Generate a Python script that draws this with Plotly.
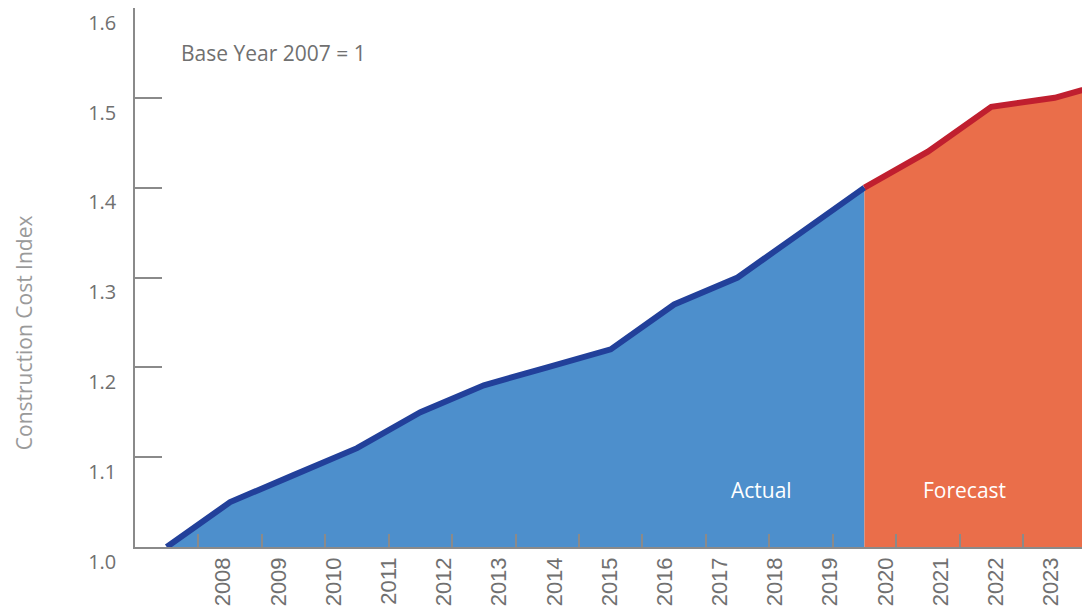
import plotly.graph_objects as go

# Construction cost index, base year 2007 = 1
index_values = [1.00, 1.05, 1.08, 1.11, 1.15, 1.18, 1.20, 1.22, 1.27, 1.30,
                1.35, 1.40, 1.44, 1.49, 1.50, 1.52]
actual_end = 11  # last point of the actual series; forecast starts here
year_labels = [str(y) for y in range(2008, 2024)]
y_ticks = [1.0, 1.1, 1.2, 1.3, 1.4, 1.5, 1.6]

BLUE_FILL = "#4d8fcc"
BLUE_LINE = "#22409a"
ORANGE_FILL = "#ea6e4a"
RED_LINE = "#c01f2f"
GREY = "#707070"

idx = list(range(len(index_values)))
act_x, act_y = idx[:actual_end + 1], index_values[:actual_end + 1]
fc_x, fc_y = idx[actual_end:], index_values[actual_end:]

fig = go.Figure()
fig.add_trace(go.Scatter(x=act_x, y=act_y, mode="none", fill="tozeroy",
                         fillcolor=BLUE_FILL, hoverinfo="skip", showlegend=False))
fig.add_trace(go.Scatter(x=fc_x, y=fc_y, mode="none", fill="tozeroy",
                         fillcolor=ORANGE_FILL, hoverinfo="skip", showlegend=False))
fig.add_trace(go.Scatter(x=act_x, y=act_y, mode="lines",
                         line=dict(color=BLUE_LINE, width=6), showlegend=False))
fig.add_trace(go.Scatter(x=fc_x, y=fc_y, mode="lines",
                         line=dict(color=RED_LINE, width=6), showlegend=False))
# invisible trace that carries the year labels axis
fig.add_trace(go.Scatter(x=[2008], y=[1.0], xaxis="x2", mode="markers",
                         marker=dict(opacity=0), hoverinfo="skip", showlegend=False))

fig.update_layout(
    width=1082, height=616,
    margin=dict(l=135, r=0, t=8, b=69),
    paper_bgcolor="white", plot_bgcolor="white",
    font=dict(family="Open Sans", color=GREY),
    xaxis=dict(
        range=[-0.5, 14.43], showgrid=False, zeroline=False,
        showline=True, linecolor="#8a8a8a", linewidth=1.5,
        ticks="inside", ticklen=13, tickcolor="#8a8a8a", tickwidth=1.5,
        tickmode="linear", tick0=0.5, dtick=1, showticklabels=False,
        layer="above traces",
    ),
    xaxis2=dict(
        overlaying="x", anchor="y", side="bottom",
        range=[2006.40, 2023.56], showgrid=False, zeroline=False,
        showline=False, ticks="",
        tickmode="array", tickvals=[int(y) for y in year_labels],
        ticktext=year_labels, tickangle=-90,
        tickfont=dict(family="Liberation Sans", size=22, color=GREY),
        ticklabelstandoff=5,
    ),
    yaxis=dict(
        range=[1.0, 1.6], showgrid=False, zeroline=False,
        showline=True, linecolor="#8a8a8a", linewidth=1.5,
        ticks="inside", ticklen=27, tickcolor="#8a8a8a", tickwidth=1.5,
        tickmode="array", tickvals=y_ticks,
        ticktext=[f"{v:.1f}" for v in y_ticks],
        tickfont=dict(family="Open Sans", size=20, color=GREY),
        ticklabelposition="outside bottom", ticklabelstandoff=13,
        layer="above traces",
    ),
    annotations=[
        dict(text="Construction Cost Index", xref="paper", yref="paper",
             x=-0.117, y=0.397, textangle=-90, xanchor="center", yanchor="middle",
             showarrow=False,
             font=dict(family="Open Sans", size=21, color="#9a9a9a")),
        dict(text="Base Year 2007 = 1", xref="paper", yref="y",
             x=0.0465, y=1.55, xanchor="left", yanchor="middle", showarrow=False,
             font=dict(family="Open Sans", size=21, color=GREY)),
        dict(text="Actual", xref="x", yref="y", x=(actual_end - 1.62), y=1.063,
             xanchor="center", yanchor="middle", showarrow=False,
             font=dict(family="Open Sans", size=21, color="white")),
        dict(text="Forecast", xref="x", yref="y", x=(actual_end + 1.58), y=1.063,
             xanchor="center", yanchor="middle", showarrow=False,
             font=dict(family="Open Sans", size=21, color="white")),
    ],
)

fig.write_html("out.html")
